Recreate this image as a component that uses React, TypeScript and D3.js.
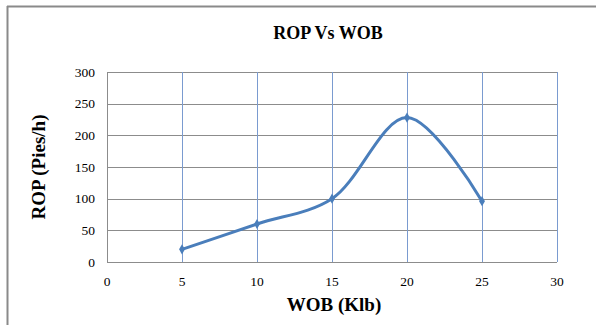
import React from "react";
import * as d3 from "d3";

const wob = [5, 10, 15, 20, 25];
const rop = [20, 60, 100, 228, 96];
const xTicks = [0, 5, 10, 15, 20, 25, 30];
const yTicks = [0, 50, 100, 150, 200, 250, 300];
const title = "ROP Vs WOB";
const xTitle = "WOB (Klb)";
const yTitle = "ROP (Pies/h)";

const W = 596;
const H = 325;
const left = 107;
const right = 557;
const top = 72;
const bottom = 262;
const font = "'Liberation Serif', 'Times New Roman', serif";

export default function App() {
  const x = d3.scaleLinear().domain([0, 30]).range([left, right]);
  const y = d3.scaleLinear().domain([0, 300]).range([bottom, top]);
  const pts: [number, number][] = wob.map((v, i) => [v, rop[i]]);
  const line = d3
    .line<[number, number]>()
    .x((d) => x(d[0]))
    .y((d) => y(d[1]))
    .curve(d3.curveCatmullRom.alpha(0.5));

  return (
    <svg
      width={W}
      height={H}
      style={{ position: "absolute", left: 0, top: 0, background: "#fff" }}
    >
      {/* chart frame (top and left edges visible) */}
      <line x1={7} y1={6.5} x2={W} y2={6.5} stroke="#8a8a8a" strokeWidth={2} />
      <line x1={7.5} y1={6} x2={7.5} y2={H} stroke="#8a8a8a" strokeWidth={2} />

      <text
        x={328}
        y={39}
        textAnchor="middle"
        fontFamily={font}
        fontWeight="bold"
        fontSize={18}
        fill="#000"
      >
        {title}
      </text>

      {/* horizontal grid */}
      {yTicks.map((t) => (
        <line
          key={"h" + t}
          x1={left}
          x2={right}
          y1={Math.round(y(t)) + 0.5}
          y2={Math.round(y(t)) + 0.5}
          stroke="#8c8c8c"
          strokeWidth={1}
        />
      ))}
      {/* vertical grid */}
      {xTicks.map((t) => (
        <line
          key={"v" + t}
          x1={Math.round(x(t)) + 0.5}
          x2={Math.round(x(t)) + 0.5}
          y1={top}
          y2={bottom}
          stroke={t === 0 ? "#8c8c8c" : "#7a9bd0"}
          strokeWidth={1}
        />
      ))}

      {/* y tick labels */}
      {yTicks.map((t) => (
        <text
          key={"yl" + t}
          x={95}
          y={y(t) + 4.5}
          textAnchor="end"
          fontFamily={font}
          fontSize={13.5}
          fill="#000"
        >
          {t}
        </text>
      ))}
      {/* x tick labels */}
      {xTicks.map((t) => (
        <text
          key={"xl" + t}
          x={x(t)}
          y={286}
          textAnchor="middle"
          fontFamily={font}
          fontSize={13.5}
          fill="#000"
        >
          {t}
        </text>
      ))}

      <text
        x={334}
        y={311}
        textAnchor="middle"
        fontFamily={font}
        fontWeight="bold"
        fontSize={19}
        fill="#000"
      >
        {xTitle}
      </text>
      <text
        transform={`translate(45,${(top + bottom) / 2}) rotate(-90)`}
        textAnchor="middle"
        fontFamily={font}
        fontWeight="bold"
        fontSize={19}
        fill="#000"
      >
        {yTitle}
      </text>

      <path
        d={line(pts) || ""}
        fill="none"
        stroke="#4a7ebb"
        strokeWidth={3}
        strokeLinecap="round"
        strokeLinejoin="round"
      />
      {pts.map((p, i) => (
        <path
          key={"m" + i}
          d={d3.symbol(d3.symbolDiamond, 30)() || ""}
          transform={`translate(${x(p[0])},${y(p[1])})`}
          fill="#4a7ebb"
        />
      ))}
    </svg>
  );
}
